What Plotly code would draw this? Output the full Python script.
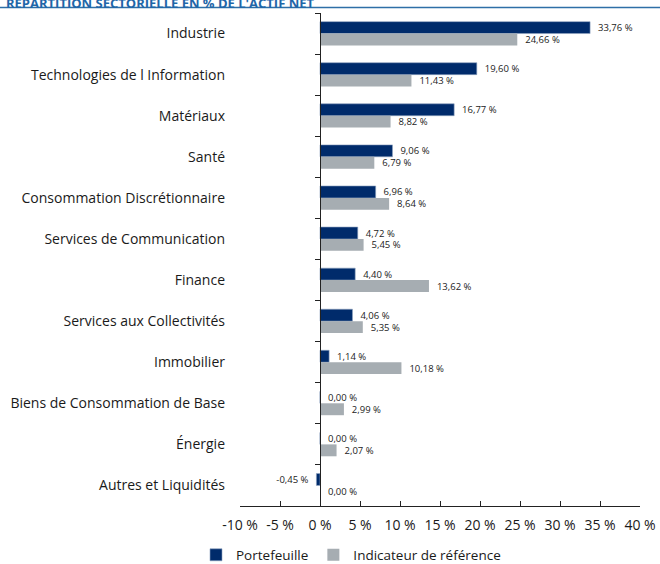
import plotly.graph_objects as go

categories = ["Industrie", "Technologies de l Information", "Matériaux", "Santé",
              "Consommation Discrétionnaire", "Services de Communication", "Finance",
              "Services aux Collectivités", "Immobilier", "Biens de Consommation de Base",
              "Énergie", "Autres et Liquidités"]
portefeuille = [33.76, 19.60, 16.77, 9.06, 6.96, 4.72, 4.40, 4.06, 1.14, 0.00, 0.00, -0.45]
indicateur = [24.66, 11.43, 8.82, 6.79, 8.64, 5.45, 13.62, 5.35, 10.18, 2.99, 2.07, 0.00]
x_ticks = [-10, -5, 0, 5, 10, 15, 20, 25, 30, 35, 40]
x_tick_labels = ["-10 %", "-5 %", "0 %", "5 %", "10 %", "15 %", "20 %", "25 %", "30 %", "35 %", "40 %"]

def fmt(v):
    s = f"{v:.2f}".replace(".", ",") + " %"
    return (s + "\u00a0\u00a0") if v < 0 else ("\u00a0\u00a0" + s)

NAVY = "#002B6B"
GRAY = "#A6ADB2"
FONT = "Open Sans"

fig = go.Figure()
fig.add_trace(go.Bar(
    y=categories, x=portefeuille, orientation="h", name="Portefeuille",
    marker=dict(color=NAVY, line=dict(color="#8FA3C0", width=0.6)),
    text=[fmt(v) for v in portefeuille], textposition="outside", constraintext="none",
    textfont=dict(size=9.5, color="#222222", family=FONT), cliponaxis=False,
))
fig.add_trace(go.Bar(
    y=categories, x=indicateur, orientation="h", name="Indicateur de référence",
    marker=dict(color=GRAY, line=dict(width=0)),
    text=[fmt(v) for v in indicateur], textposition="outside", constraintext="none",
    textfont=dict(size=9.5, color="#222222", family=FONT), cliponaxis=False,
))
# invisible helper trace for the zero-position axis
fig.add_trace(go.Scatter(
    y=categories, x=[0] * len(categories), yaxis="y2", mode="markers",
    marker=dict(opacity=0, size=1), showlegend=False, hoverinfo="skip",
))

fig.update_layout(
    width=660, height=564,
    margin=dict(l=240, r=20, t=13, b=58, autoexpand=False),
    paper_bgcolor="white", plot_bgcolor="white",
    font=dict(family=FONT, size=13, color="#1a1a1a"),
    barmode="group", bargap=0.42, bargroupgap=0,
    xaxis=dict(
        range=[-10, 40], tickmode="array", tickvals=x_ticks, ticktext=x_tick_labels,
        showgrid=False, zeroline=False, showline=True, linecolor="#222222", linewidth=1,
        ticks="inside", ticklen=5, tickcolor="#222222", automargin=False,
        ticklabelstandoff=6, tickfont=dict(size=14, color="#1a1a1a"),
    ),
    yaxis=dict(
        categoryorder="array", categoryarray=categories, range=[11.5, -0.5],
        showgrid=False, zeroline=False, showline=False, ticks="", automargin=False,
        ticklabelstandoff=14, tickfont=dict(size=14, color="#1a1a1a"),
    ),
    yaxis2=dict(
        categoryorder="array", categoryarray=categories, range=[11.5, -0.5],
        overlaying="y", anchor="free", position=0.2, side="left", automargin=False,
        showgrid=False, zeroline=False, showline=True, linecolor="#222222", linewidth=1,
        ticks="outside", tickson="boundaries", ticklen=5, tickcolor="#222222",
        showticklabels=False,
    ),
    legend=dict(
        orientation="h", x=-0.11, xanchor="left", y=-0.068, yanchor="top",
        font=dict(size=13.5, color="#1a1a1a"), itemwidth=30, traceorder="normal",
    ),
    shapes=[dict(type="line", xref="paper", yref="paper", x0=-0.6, x1=1.05,
                 y0=1.0111, y1=1.0111, line=dict(color="#2E6FA7", width=1.5))],
    annotations=[dict(text="<b>RÉPARTITION SECTORIELLE EN % DE L'ACTIF NET</b>",
                      xref="paper", yref="paper", x=-0.59, xanchor="left",
                      y=0.998, yanchor="bottom", showarrow=False,
                      font=dict(size=13, color="#1F66A8", family=FONT))],
)

fig.write_html("out.html", config={"displayModeBar": False},
               post_script="document.body.style.margin='0px';")
